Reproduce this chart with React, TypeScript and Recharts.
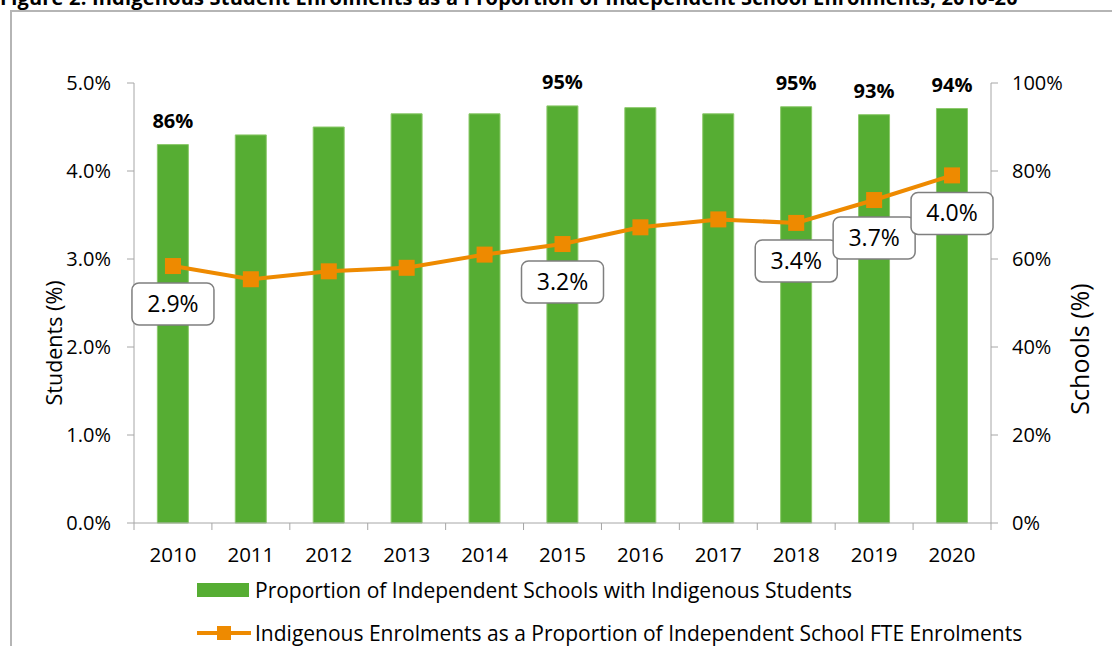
import {
  ComposedChart,
  Bar,
  Line,
  XAxis,
  YAxis,
  Legend,
  LabelList,
} from "recharts";

const years = ["2010", "2011", "2012", "2013", "2014", "2015", "2016", "2017", "2018", "2019", "2020"];
// % of independent schools with Indigenous students (right axis)
const schoolShare = [86, 88.2, 90, 93, 93, 94.8, 94.4, 93, 94.6, 92.8, 94.2];
// Indigenous FTE enrolments as % of independent school FTE (left axis)
const studentShare = [2.92, 2.77, 2.86, 2.9, 3.05, 3.17, 3.36, 3.45, 3.41, 3.67, 3.95];
// which points get a value label
const schoolLabels = ["86%", "", "", "", "", "95%", "", "", "95%", "93%", "94%"];
const studentLabels = ["2.9%", "", "", "", "", "3.2%", "", "", "3.4%", "3.7%", "4.0%"];

const leftTicks = [0, 1, 2, 3, 4, 5];
const rightTicks = [0, 20, 40, 60, 80, 100];

const GREEN = "#56ad33";
const ORANGE = "#ee8a00";
const AXIS = "#a6a6a6";
const FONT = "'Open Sans', 'Noto Sans', sans-serif";

const chartData = years.map((year, i) => ({
  year,
  schools: schoolShare[i],
  students: studentShare[i],
  schoolLabel: schoolLabels[i],
  studentLabel: studentLabels[i],
}));

// x tick: year label plus Excel-style tick marks on the category boundaries
function YearTick(props: any) {
  const { x, y, payload, index } = props;
  const half = payload.offset || 0;
  return (
    <g>
      <line x1={x - half} x2={x - half} y1={y} y2={y + 7} stroke={AXIS} />
      {index === years.length - 1 && (
        <line x1={x + half} x2={x + half} y1={y} y2={y + 7} stroke={AXIS} />
      )}
      <text x={x} y={y + 39} textAnchor="middle" fontSize={20.5} fill="#000" fontFamily={FONT}>
        {payload.value}
      </text>
    </g>
  );
}

function BoxLabel(props: any) {
  const { x, y, value } = props;
  if (!value) return null;
  const w = 82;
  const h = 42;
  const cy = y + 38;
  return (
    <g>
      <rect
        x={x - w / 2}
        y={cy - h / 2}
        width={w}
        height={h}
        rx={7}
        ry={7}
        fill="#fff"
        stroke="#7f7f7f"
        strokeWidth={1.5}
      />
      <text x={x} y={cy + 8} textAnchor="middle" fontSize={23} fill="#000" fontFamily={FONT}>
        {value}
      </text>
    </g>
  );
}

function LegendContent() {
  return (
    <div style={{ fontFamily: FONT, fontSize: 21, color: "#000", whiteSpace: "nowrap" }}>
      <div style={{ display: "flex", alignItems: "center", height: 26 }}>
        <span style={{ display: "inline-block", width: 52, height: 14, background: GREEN, marginRight: 6 }} />
        Proportion of Independent Schools with Indigenous Students
      </div>
      <div style={{ display: "flex", alignItems: "center", height: 26, marginTop: 17 }}>
        <svg width={54} height={16} style={{ marginRight: 4 }}>
          <line x1={0} x2={54} y1={8} y2={8} stroke={ORANGE} strokeWidth={4} />
          <rect x={20} y={1} width={14} height={14} fill={ORANGE} />
        </svg>
        Indigenous Enrolments as a Proportion of Independent School FTE Enrolments
      </div>
    </div>
  );
}

export default function App() {
  return (
    <div
      style={{
        position: "absolute",
        left: 0,
        top: 0,
        width: 1112,
        height: 646,
        overflow: "hidden",
        background: "#fff",
      }}
    >
      <div
        style={{
          position: "absolute",
          left: 0,
          top: -14,
          whiteSpace: "nowrap",
          fontFamily: FONT,
          fontWeight: 700,
          fontSize: 20,
          lineHeight: "24px",
          letterSpacing: 0.2,
          color: "#000",
        }}
      >
        Figure 2: Indigenous Student Enrolments as a Proportion of Independent School Enrolments, 2010-20
      </div>
      <div
        style={{
          position: "absolute",
          left: 10,
          top: 10,
          width: 1120,
          height: 700,
          border: "2px solid #b5b5b5",
        }}
      />
      <ComposedChart
        width={1112}
        height={646}
        data={chartData}
        margin={{ top: 83, right: 0, bottom: 0, left: 0 }}
        barCategoryGap="30%"
        style={{ position: "absolute", left: 0, top: 0, fontFamily: FONT }}
      >
        <XAxis
          dataKey="year"
          xAxisId="x"
          height={123}
          stroke={AXIS}
          tickLine={false}
          tickSize={0}
          tickMargin={0}
          interval={0}
          tick={<YearTick />}
        />
        <YAxis
          yAxisId="left"
          orientation="left"
          width={134}
          domain={[0, 5]}
          ticks={leftTicks}
          interval={0}
          stroke={AXIS}
          tickSize={7}
          tickMargin={16}
          tick={{ fontSize: 20, fill: "#000", fontFamily: FONT }}
          tickFormatter={(v: number) => `${v.toFixed(1)}%`}
          label={({ viewBox }: any) => (
            <text
              x={viewBox.x + 62}
              y={viewBox.y + viewBox.height / 2 + 40}
              transform={`rotate(-90 ${viewBox.x + 62} ${viewBox.y + viewBox.height / 2 + 40})`}
              textAnchor="middle"
              fontSize={21.5}
              fill="#000"
              fontFamily={FONT}
            >
              Students (%)
            </text>
          )}
        />
        <YAxis
          yAxisId="right"
          orientation="right"
          width={121}
          domain={[0, 100]}
          ticks={rightTicks}
          interval={0}
          stroke={AXIS}
          tickSize={7}
          tickMargin={14}
          tick={{ fontSize: 20, fill: "#000", fontFamily: FONT }}
          tickFormatter={(v: number) => `${v}%`}
          label={({ viewBox }: any) => (
            <text
              x={viewBox.x + 98}
              y={viewBox.y + viewBox.height / 2 + 46}
              transform={`rotate(-90 ${viewBox.x + 98} ${viewBox.y + viewBox.height / 2 + 46})`}
              textAnchor="middle"
              fontSize={25}
              fill="#000"
              fontFamily={FONT}
            >
              Schools (%)
            </text>
          )}
        />
        <Legend
          layout="horizontal"
          verticalAlign="middle"
          align="center"
          wrapperStyle={{ top: 577, left: 197, width: 900 }}
          content={<LegendContent />}
        />
        <Bar
          dataKey="schools"
          xAxisId="x"
          yAxisId="right"
          fill={GREEN}
          stroke="#8cc96b"
          strokeWidth={1}
          isAnimationActive={false}
        >
          <LabelList
            dataKey="schoolLabel"
            position="top"
            offset={17}
            style={{ fontSize: 20, fontWeight: 700, fill: "#000", fontFamily: FONT }}
          />
        </Bar>
        <Line
          dataKey="students"
          xAxisId="x"
          yAxisId="left"
          stroke={ORANGE}
          strokeWidth={4}
          dot={(p: any) => (
            <rect key={p.index} x={p.cx - 8} y={p.cy - 8} width={16} height={16} fill={ORANGE} />
          )}
          activeDot={false}
          isAnimationActive={false}
        >
          <LabelList dataKey="studentLabel" content={<BoxLabel />} />
        </Line>
      </ComposedChart>
    </div>
  );
}
